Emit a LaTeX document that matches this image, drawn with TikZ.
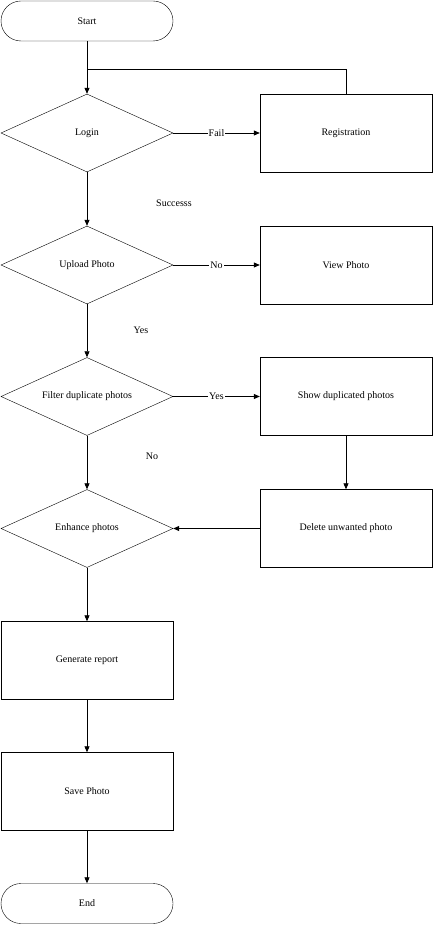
\documentclass[tikz,border=0pt]{standalone}
\usepackage{fontspec}
\setmainfont{Liberation Serif}
\usetikzlibrary{shapes.geometric,arrows.meta}
\begin{document}
\begin{tikzpicture}[x=1pt,y=-1pt,
  font=\fontsize{10}{12}\selectfont,
  every node/.style={inner sep=0pt},
  term/.style={draw,rounded rectangle,minimum width=172pt,minimum height=40pt},
  proc/.style={draw,rectangle,minimum width=172pt,minimum height=78pt},
  dec/.style={draw,diamond,aspect=2.2,minimum width=172pt,minimum height=78pt},
  line/.style={line width=0.8pt},
  arr/.style={line, -{Triangle[length=6pt,width=5pt]}},
  lbl/.style={fill=white,inner sep=1pt}
]
\useasboundingbox (0,0) rectangle (433,925);
\tikzset{rounded rectangle/.style={rectangle,rounded corners=20pt}}
\node[term] (start) at (87,21) {Start};
\node[dec] (login) at (87,133) {Login};
\node[proc] (reg) at (346,133) {Registration};
\node[dec] (upload) at (87,265) {Upload Photo};
\node[proc] (view) at (346,265) {View Photo};
\node[dec] (filter) at (87,396.5) {Filter duplicate photos};
\node[proc] (show) at (346,396.5) {Show duplicated photos};
\node[dec] (enh) at (87,528.5) {Enhance photos};
\node[proc] (del) at (346,528.5) {Delete unwanted photo};
\node[proc] (gen) at (87,660.5) {Generate report};
\node[proc] (save) at (87,791.5) {Save Photo};
\node[term] (end) at (87,903.5) {End};
\coordinate (j) at (87,69);

\draw[arr] (start) -- (login);
\draw[line] (reg.north) |- (j);
\draw[arr] (login) -- node[lbl] {Fail} (reg);
\draw[arr] (login) -- (upload);
\node (succ) at (174,203) {Successs};
\draw[arr] (upload) -- node[lbl] {No} (view);
\draw[arr] (upload) -- (filter);
\node (yes1) at (141,330) {Yes};
\draw[arr] (filter) -- node[lbl] {Yes} (show);
\draw[arr] (filter) -- (enh);
\node (no2) at (152,456) {No};
\draw[arr] (show) -- (del);
\draw[arr] (del) -- (enh);
\draw[arr] (enh) -- (gen);
\draw[arr] (gen) -- (save);
\draw[arr] (save) -- (end);
\end{tikzpicture}
\end{document}
